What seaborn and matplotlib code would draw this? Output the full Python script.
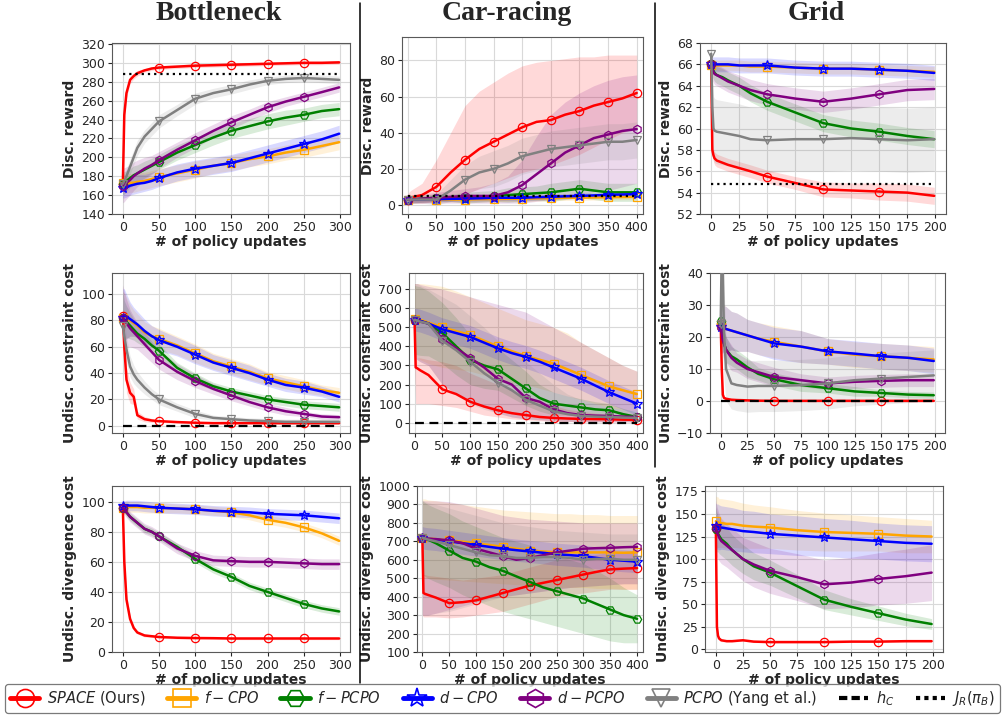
import numpy as np
import matplotlib
matplotlib.use("Agg")
import matplotlib.pyplot as plt
import seaborn as sns
from matplotlib.lines import Line2D

# ---------------- data ----------------
BN_X = [0, 2, 5, 10, 15, 20, 30, 40, 50, 75, 100, 125, 150, 175, 200, 225, 250, 275, 299]
CR_X = [0, 2, 5, 10, 25, 50, 75, 100, 125, 150, 175, 200, 225, 250, 275, 300, 325, 350, 375, 400]
GR_X = [0, 1, 2, 3, 5, 10, 15, 25, 35, 50, 75, 100, 125, 150, 175, 199]

BN_JR = 288
CR_JR = 4.8
GR_JR = 54.85
HC = 0

# Bottleneck - discounted reward
bn_rew_space = [172, 245, 268, 282, 286, 289, 292, 294, 295, 296, 297, 297.5, 298, 298.5, 299, 299.5, 300, 300, 300.5]
bn_rew_space_sd = [5, 6, 5, 4, 3, 3, 2, 2, 2, 2, 2, 2, 2, 2, 2, 2, 2, 2, 2]
bn_rew_fcpo = [173, 172, 172, 173, 173, 174, 175, 177, 179, 183, 187, 191, 194, 198, 201, 205, 208, 212, 216]
bn_rew_fcpo_sd = [10, 10, 10, 10, 10, 10, 9, 9, 9, 9, 9, 8, 8, 8, 8, 8, 8, 8, 8]
bn_rew_fpcpo = [172, 173, 175, 178, 181, 183, 187, 191, 195, 205, 213, 221, 228, 233, 238, 242, 245, 249, 251]
bn_rew_fpcpo_sd = [12, 12, 11, 10, 10, 9, 9, 8, 8, 8, 8, 8, 8, 8, 8, 8, 7, 7, 7]
bn_rew_dcpo = [167, 167, 168, 170, 171, 172, 173, 175, 178, 184, 188, 191, 194, 199, 204, 209, 214, 219, 225]
bn_rew_dcpo_sd = [10, 10, 10, 10, 10, 10, 9, 9, 9, 9, 9, 9, 9, 9, 9, 9, 9, 9, 9]
bn_rew_dpcpo = [170, 171, 173, 176, 180, 183, 188, 192, 197, 208, 218, 228, 237, 245, 253, 259, 264, 269, 274]
bn_rew_dpcpo_sd = [18, 18, 17, 16, 15, 14, 12, 10, 9, 8, 8, 7, 7, 6, 6, 5, 5, 5, 5]
bn_rew_pcpo = [172, 175, 180, 190, 200, 210, 222, 230, 238, 250, 262, 268, 272, 277, 281, 283, 284, 283, 282]
bn_rew_pcpo_sd = [8, 8, 8, 8, 8, 8, 7, 7, 7, 6, 6, 5, 5, 5, 4, 4, 4, 4, 4]

# Car-racing - discounted reward
cr_rew_space = [3, 3.5, 4, 4.5, 5.5, 10, 18, 25, 31, 35, 39, 43, 46, 47, 50, 52, 55, 57, 59, 62]
cr_rew_space_lo = [1, 1, 1, 1, 1, 2, 4, 6, 9, 12, 15, 18, 20, 22, 25, 28, 32, 36, 40, 43]
cr_rew_space_hi = [6, 7, 8, 9, 12, 25, 40, 55, 63, 68, 73, 77, 79, 80, 81, 82, 82, 83, 83, 83]
cr_rew_fcpo = [3, 3, 3, 3, 3, 3, 3, 3, 3.2, 3.3, 3.4, 3.5, 3.7, 3.8, 4, 4, 4.2, 4.3, 4.4, 4.5]
cr_rew_fcpo_sd = [1.5] * 20
cr_rew_fpcpo = [3, 3, 3, 3, 3.5, 4, 4, 4, 4.5, 5, 5.5, 6, 6.5, 7, 8, 9, 8, 7, 7, 7]
cr_rew_fpcpo_sd = [2, 2, 2, 2, 2, 2, 2, 3, 3, 3, 4, 4, 4, 5, 5, 5, 5, 5, 5, 5]
cr_rew_dcpo = [3, 3, 3, 3, 3, 3.2, 3.4, 3.5, 3.7, 4, 4, 4, 4.3, 4.5, 4.8, 5, 5.3, 5.6, 5.8, 6]
cr_rew_dcpo_sd = [1.5] * 20
cr_rew_dpcpo = [3, 3, 3, 3, 3.5, 4, 4.5, 5, 5, 5, 7, 11, 17, 23, 29, 33, 37, 39, 41, 42]
cr_rew_dpcpo_lo = [1, 1, 1, 1, 1, 1, 1, 1, 1, 1, 1, 1, 2, 3, 4, 5, 7, 8, 10, 12]
cr_rew_dpcpo_hi = [5, 5, 5, 5, 6, 7, 8, 9, 10, 12, 16, 25, 38, 50, 57, 62, 66, 69, 71, 72]
cr_rew_pcpo = [3, 3, 3, 3, 3, 3, 8, 14, 18, 20, 23, 27, 29, 31, 32, 33, 34, 35, 35, 36]
cr_rew_pcpo_sd = [2, 2, 2, 2, 2, 3, 6, 8, 9, 10, 10, 10, 10, 10, 10, 10, 10, 10, 10, 10]

# Grid - discounted reward
gr_rew_space = [66, 58, 57.5, 57.2, 57, 56.8, 56.6, 56.3, 56, 55.5, 54.9, 54.3, 54.2, 54.1, 54.0, 53.7]
gr_rew_space_sd = [0.5, 0.6, 0.6, 0.6, 0.6, 0.6, 0.6, 0.6, 0.6, 0.6, 0.6, 0.7, 0.7, 0.8, 0.8, 0.8]
gr_rew_fcpo = [65.9, 65.9, 65.9, 65.9, 65.9, 65.9, 65.9, 65.9, 65.8, 65.8, 65.7, 65.6, 65.6, 65.5, 65.4, 65.3]
gr_rew_fcpo_sd = [0.5] * 16
gr_rew_fpcpo = [66, 65.6, 65.4, 65.2, 65, 64.8, 64.5, 64, 63.3, 62.5, 61.5, 60.5, 60.0, 59.7, 59.3, 59.0]
gr_rew_fpcpo_sd = [0.8] * 16
gr_rew_dcpo = [66, 66, 66, 66, 66, 66, 66, 65.9, 65.9, 65.9, 65.7, 65.6, 65.6, 65.5, 65.4, 65.2]
gr_rew_dcpo_sd = [0.7] * 16
gr_rew_dpcpo = [66, 65.5, 65.3, 65.1, 65, 64.7, 64.4, 64, 63.6, 63.2, 62.8, 62.5, 62.8, 63.2, 63.6, 63.7]
gr_rew_dpcpo_sd = [1.0] * 16
gr_rew_pcpo = [67, 62, 60, 59.8, 59.7, 59.6, 59.5, 59.3, 59, 58.9, 59, 59, 59.1, 59, 58.9, 59]
gr_rew_pcpo_sd = [0.5, 3, 3, 3, 3, 3, 3, 3, 3, 3, 3, 3, 3, 3, 3, 3]

# Bottleneck - undiscounted constraint cost
bn_con_space = [83, 60, 35, 25, 22, 8, 5, 4, 3.5, 2.8, 2.3, 2, 2, 2, 2, 2, 2, 2, 2]
bn_con_space_sd = [5, 10, 10, 8, 6, 3, 2, 1.5, 1, 1, 1, 1, 1, 1, 1, 1, 1, 1, 1]
bn_con_fcpo = [82, 83, 82, 80, 78, 76, 71, 68, 66, 61, 55, 49, 45, 41, 36, 33, 30, 27, 25]
bn_con_fcpo_sd = [20, 18, 16, 12, 10, 9, 8, 8, 8, 7, 7, 6, 6, 6, 5, 5, 5, 4, 4]
bn_con_fpcpo = [82, 80, 79, 76, 73, 70, 66, 61, 57, 44, 36, 30, 26, 23, 20, 18, 16, 15, 14]
bn_con_fpcpo_sd = [20, 15, 12, 10, 8, 7, 6, 6, 5, 4, 4, 3, 3, 3, 3, 3, 3, 3, 3]
bn_con_dcpo = [82, 84, 83, 81, 79, 77, 72, 68, 65, 60, 54, 48, 44, 40, 35, 31, 29, 26, 22]
bn_con_dcpo_sd = [22, 20, 17, 13, 11, 10, 9, 8, 8, 7, 7, 6, 6, 6, 5, 5, 5, 4, 4]
bn_con_dpcpo = [82, 80, 78, 74, 71, 68, 62, 56, 50, 41, 34, 28, 23, 18, 14, 11, 9, 7, 6.5]
bn_con_dpcpo_sd = [25, 22, 18, 14, 12, 10, 9, 8, 7, 6, 5, 4, 4, 3, 3, 3, 2, 2, 2]
bn_con_pcpo = [76, 68, 58, 45, 39, 35, 29, 24, 20, 14, 9, 6, 5, 4, 3.5, 3, 3, 3, 3]
bn_con_pcpo_sd = [15, 12, 10, 8, 7, 6, 5, 4, 4, 3, 3, 2, 2, 2, 2, 2, 2, 2, 2]

# Car-racing - undiscounted constraint cost
cr_con_space = [540, 290, 285, 275, 250, 175, 150, 110, 85, 65, 50, 40, 30, 25, 22, 20, 19, 18, 16, 15]
cr_con_space_lo = [300, 100, 100, 100, 100, 90, 80, 60, 40, 30, 20, 15, 10, 8, 6, 5, 5, 4, 4, 3]
cr_con_space_hi = [550, 340, 340, 340, 330, 320, 300, 260, 230, 200, 170, 140, 110, 90, 70, 60, 50, 45, 40, 35]
cr_con_fcpo = [545, 545, 543, 540, 525, 500, 480, 460, 430, 400, 375, 350, 330, 310, 280, 250, 220, 190, 170, 150]
cr_con_fcpo_lo = [360, 350, 340, 330, 310, 290, 280, 270, 250, 230, 210, 200, 180, 160, 140, 120, 100, 80, 70, 60]
cr_con_fcpo_hi = [730, 730, 730, 730, 725, 715, 690, 660, 630, 600, 570, 540, 520, 500, 470, 420, 380, 340, 300, 270]
cr_con_fpcpo = [540, 538, 536, 533, 520, 470, 400, 330, 300, 280, 230, 180, 130, 100, 90, 80, 70, 65, 45, 30]
cr_con_fpcpo_sd = [180, 180, 180, 180, 170, 160, 150, 130, 120, 110, 100, 90, 70, 60, 50, 45, 40, 35, 30, 25]
cr_con_dcpo = [540, 540, 538, 535, 520, 490, 470, 450, 420, 390, 365, 345, 320, 290, 260, 230, 195, 160, 130, 100]
cr_con_dcpo_sd = [60] * 20
cr_con_dpcpo = [540, 538, 535, 530, 520, 440, 390, 340, 290, 230, 200, 130, 110, 70, 50, 40, 37, 35, 32, 30]
cr_con_dpcpo_lo = [350, 340, 330, 320, 300, 200, 150, 110, 80, 50, 30, 20, 15, 10, 8, 5, 5, 5, 5, 5]
cr_con_dpcpo_hi = [730, 730, 730, 725, 715, 700, 680, 660, 640, 620, 600, 580, 540, 500, 460, 420, 380, 340, 300, 270]
cr_con_pcpo = [540, 538, 535, 530, 520, 430, 380, 320, 260, 210, 170, 120, 90, 60, 45, 35, 32, 30, 27, 25]
cr_con_pcpo_lo = [350, 340, 330, 320, 300, 200, 150, 100, 70, 50, 30, 20, 15, 10, 8, 5, 5, 5, 5, 5]
cr_con_pcpo_hi = [730, 730, 730, 720, 700, 660, 620, 560, 500, 430, 380, 320, 260, 200, 150, 120, 100, 80, 70, 60]

# Grid - undiscounted constraint cost
gr_con_space = [24, 10, 2, 1, 0.7, 0.4, 0.3, 0.2, 0.1, 0.05, 0.05, 0.05, 0.05, 0.05, 0.05, 0.05]
gr_con_space_sd = [1, 3, 1, 0.5, 0.3, 0.3, 0.3, 0.3, 0.3, 0.3, 0.3, 0.3, 0.3, 0.3, 0.3, 0.3]
gr_con_fcpo = [24, 23.5, 23, 23, 22.5, 22, 21.5, 20.5, 19.5, 18.5, 17, 15.5, 14.5, 14, 13.5, 13]
gr_con_fcpo_sd = [8, 8, 8, 7, 7, 6, 6, 5, 5, 5, 5, 4, 4, 4, 4, 4]
gr_con_fpcpo = [25, 22, 20, 18, 16, 14, 13, 10.5, 8.5, 6.8, 5, 4, 3, 2.5, 2, 1.8]
gr_con_fpcpo_sd = [5, 5, 4, 4, 4, 3, 3, 3, 2, 2, 2, 1.5, 1.5, 1, 1, 1]
gr_con_dcpo = [23, 23, 23, 22.8, 22.5, 22, 21.5, 20.5, 19.5, 18, 17, 15.5, 14.8, 14, 13.5, 12.5]
gr_con_dcpo_sd = [8, 8, 8, 7, 7, 6, 6, 5, 5, 5, 5, 4, 4, 4, 4, 4]
gr_con_dpcpo = [23, 21, 19, 18, 16, 13.5, 12, 10, 9, 7.5, 6.5, 5.5, 6, 6.3, 6.5, 6.5]
gr_con_dpcpo_sd = [6, 6, 5, 5, 4, 4, 3, 3, 3, 3, 2, 2, 2, 2, 2, 2]
gr_con_pcpo = [24, 48, 40, 22, 10, 5.5, 5, 4.5, 4.7, 4.7, 5, 5.5, 6.5, 7, 7.5, 8]
gr_con_pcpo_sd = [10, 30, 25, 15, 10, 8, 8, 8, 8, 8, 8, 8, 8, 8, 8, 8]

# Bottleneck - undiscounted divergence cost
bn_div_space = [96, 60, 35, 22, 16, 13, 11, 10.5, 10, 9.5, 9.3, 9.2, 9, 9, 9, 9, 9, 9, 9]
bn_div_space_sd = [3, 5, 4, 2, 1.5, 1, 1, 0.8, 0.8, 0.8, 0.8, 0.8, 0.8, 0.8, 0.8, 0.8, 0.8, 0.8, 0.8]
bn_div_fcpo = [96, 96, 96.5, 96.5, 96.5, 96.5, 96, 96, 96, 95.5, 95, 94, 93, 91, 88, 86, 83, 79, 74]
bn_div_fcpo_sd = [4, 4, 4, 3.5, 3.5, 3.5, 3.5, 3.5, 3.5, 3, 3, 3, 3, 3, 3, 3, 3, 3, 3]
bn_div_fpcpo = [96, 95, 93, 90, 88, 86, 82, 80, 77, 70, 62, 55, 50, 44, 40, 36, 32, 29, 27]
bn_div_fpcpo_sd = [2.5] * 19
bn_div_dcpo = [97, 97, 97.5, 97.5, 97.5, 97.5, 97, 96.5, 96, 95.5, 95, 94, 93.5, 93, 92, 91.5, 91, 90, 89]
bn_div_dcpo_sd = [3.5] * 19
bn_div_dpcpo = [96, 95, 93, 90, 88, 86, 82, 80, 77, 69, 64, 61, 60.5, 60, 60, 59.5, 59, 58.5, 58.5]
bn_div_dpcpo_sd = [3.5] * 19

# Car-racing - undiscounted divergence cost
cr_div_space = [720, 420, 415, 410, 395, 365, 370, 380, 400, 420, 440, 460, 475, 490, 505, 520, 535, 548, 552, 555]
cr_div_space_lo = [300, 290, 290, 290, 290, 285, 290, 300, 310, 320, 340, 360, 380, 400, 410, 420, 430, 440, 440, 440]
cr_div_space_hi = [720, 520, 520, 515, 510, 500, 490, 500, 510, 520, 540, 560, 580, 600, 610, 620, 630, 640, 645, 650]
cr_div_fcpo = [720, 720, 718, 716, 712, 705, 698, 690, 680, 670, 660, 650, 645, 640, 640, 640, 640, 640, 638, 640]
cr_div_fcpo_lo = [500, 500, 500, 500, 495, 490, 485, 480, 475, 470, 465, 460, 455, 450, 450, 450, 445, 445, 440, 440]
cr_div_fcpo_hi = [930, 930, 930, 925, 920, 910, 900, 890, 880, 870, 865, 860, 855, 850, 850, 845, 845, 840, 840, 840]
cr_div_fpcpo = [720, 718, 715, 710, 690, 650, 610, 590, 560, 540, 510, 480, 450, 430, 410, 390, 360, 330, 300, 280]
cr_div_fpcpo_lo = [520, 515, 510, 500, 480, 450, 410, 380, 350, 320, 300, 280, 260, 240, 220, 200, 180, 160, 150, 150]
cr_div_fpcpo_hi = [920, 915, 910, 900, 880, 850, 810, 780, 750, 720, 700, 680, 640, 620, 600, 580, 540, 500, 450, 410]
cr_div_dcpo = [720, 718, 716, 714, 710, 700, 690, 680, 670, 660, 652, 645, 638, 630, 625, 620, 610, 600, 595, 590]
cr_div_dcpo_sd = [60] * 20
cr_div_dpcpo = [720, 718, 716, 714, 712, 705, 690, 660, 640, 620, 600, 610, 625, 640, 650, 660, 663, 665, 668, 670]
cr_div_dpcpo_lo = [300, 300, 300, 300, 310, 330, 350, 370, 390, 400, 410, 420, 430, 440, 450, 455, 460, 465, 470, 470]
cr_div_dpcpo_hi = [920, 920, 920, 920, 920, 915, 900, 880, 860, 840, 830, 820, 815, 810, 805, 800, 800, 800, 800, 800]
cr_div_pcpo = [720, 718, 715, 710, 700, 680, 660, 640, 625, 620, 610, 610, 615, 615, 610, 600, 605, 605, 600, 600]
cr_div_pcpo_lo = [300, 300, 300, 300, 310, 320, 340, 360, 380, 400, 410, 420, 430, 440, 450, 455, 460, 465, 470, 470]
cr_div_pcpo_hi = [920, 920, 915, 910, 900, 880, 860, 840, 820, 800, 790, 780, 770, 760, 755, 750, 745, 740, 740, 740]

# Grid - undiscounted divergence cost
gr_div_space = [135, 25, 15, 12, 10, 9, 9, 10, 8.5, 8, 8, 8, 8.5, 8.5, 9, 9]
gr_div_space_sd = [10, 5, 3, 2, 1.5, 1, 1, 1, 1, 1, 1, 1, 1, 1, 1, 1]
gr_div_fcpo = [142, 141, 141, 140, 140, 139, 139, 137, 136, 135, 132, 130, 129, 128, 126, 125]
gr_div_fcpo_sd = [28, 28, 28, 27, 27, 27, 26, 25, 24, 23, 22, 21, 20, 19, 19, 18]
gr_div_fpcpo = [133, 130, 128, 126, 122, 117, 110, 100, 92, 85, 70, 55, 47, 40, 33, 28]
gr_div_fpcpo_sd = [25, 22, 20, 20, 18, 18, 17, 16, 15, 14, 13, 11, 9, 8, 7, 6]
gr_div_dcpo = [137, 136, 136, 135, 135, 134, 133, 131, 130, 128, 126, 124, 122, 120, 118, 117]
gr_div_dcpo_sd = [25, 25, 25, 25, 24, 24, 24, 23, 23, 22, 22, 21, 21, 20, 20, 20]
gr_div_dpcpo = [135, 130, 127, 124, 120, 115, 110, 100, 94, 87, 80, 72, 74, 78, 81, 85]
gr_div_dpcpo_sd = [30, 28, 27, 26, 25, 24, 24, 24, 25, 25, 26, 27, 28, 29, 30, 31]

ALGOS = ["space", "fcpo", "fpcpo", "dcpo", "dpcpo", "pcpo"]
LABELS = [r"$SPACE$ (Ours)", r"$f-CPO$", r"$f-PCPO$", r"$d-CPO$", r"$d-PCPO$",
          r"$PCPO$ (Yang et al.)", r"$h_C$", r"$J_R(\pi_B)$"]
ENV_TITLES = ["Bottleneck", "Car-racing", "Grid"]
YLABELS = ["Disc. reward", "Undisc. constraint cost", "Undisc. divergence cost"]
XLABEL = "# of policy updates"

# ---------------- styles ----------------
COLORS = {"space": "red", "fcpo": "orange", "fpcpo": "green",
          "dcpo": "blue", "dpcpo": "purple", "pcpo": "gray"}
MARKERS = {"space": "o", "fcpo": "s", "fpcpo": "H", "dcpo": "*",
           "dpcpo": "h", "pcpo": "v"}

sns.set_style("whitegrid", {"axes.edgecolor": "0.35", "grid.color": "0.85",
                            "xtick.bottom": True, "ytick.left": True,
                            "xtick.color": "0.15", "ytick.color": "0.15",
                            "axes.linewidth": 0.9})
plt.rcParams["font.family"] = ["DejaVu Sans"]
plt.rcParams["mathtext.fontset"] = "dejavusans"

FW, FH = 1005, 715
fig = plt.figure(figsize=(FW / 100, FH / 100), dpi=100)

# axes boxes in pixels: (left, top, right, bottom)
BOXES = [
    [(112, 43, 350, 214), (402, 37, 643, 214), (700, 43, 946, 214)],
    [(112, 273, 350, 433), (409, 273, 643, 433), (710, 273, 945, 433)],
    [(112, 486, 350, 652), (417, 486, 643, 652), (705, 486, 943, 652)],
]
ENV_PREFIX = ["bn", "cr", "gr"]
ROW_PREFIX = ["rew", "con", "div"]
ENV_X = {"bn": BN_X, "cr": CR_X, "gr": GR_X}
REF_LINES = {("rew", "bn"): BN_JR, ("rew", "cr"): CR_JR, ("rew", "gr"): GR_JR,
             ("con", "bn"): HC, ("con", "cr"): HC, ("con", "gr"): HC}
XLIMS = {"bn": (-15, 314), "cr": (-10, 411), "gr": (-10, 209.5)}
XTICKS = {"bn": np.arange(0, 301, 50), "cr": np.arange(0, 401, 50), "gr": np.arange(0, 201, 25)}
YLIMS = {("rew", "bn"): (140, 321), ("rew", "cr"): (-5, 93), ("rew", "gr"): (52, 68),
         ("con", "bn"): (-5.5, 116), ("con", "cr"): (-54, 785), ("con", "gr"): (-10, 40),
         ("div", "bn"): (0, 110.5), ("div", "cr"): (100, 1000), ("div", "gr"): (-3, 181)}
YTICKS = {("rew", "bn"): np.arange(140, 321, 20), ("rew", "cr"): np.arange(0, 81, 20),
          ("rew", "gr"): np.arange(52, 69, 2), ("con", "bn"): np.arange(0, 101, 20),
          ("con", "cr"): np.arange(0, 701, 100), ("con", "gr"): np.arange(-10, 41, 10),
          ("div", "bn"): np.arange(0, 101, 20), ("div", "cr"): np.arange(100, 1001, 100),
          ("div", "gr"): np.arange(0, 176, 25)}

G = globals()
for r, rp in enumerate(ROW_PREFIX):
    for c, ep in enumerate(ENV_PREFIX):
        l, t, rr, b = BOXES[r][c]
        ax = fig.add_axes([l / FW, 1 - b / FH, (rr - l) / FW, (b - t) / FH])
        ax.set_axisbelow(True)
        x = np.array(ENV_X[ep], dtype=float)
        mask = [(v % 50 == 0) for v in ENV_X[ep]]
        series = []
        for a in ALGOS:
            name = f"{ep}_{rp}_{a}"
            if name not in G:
                continue
            m = np.array(G[name], dtype=float)
            if name + "_lo" in G:
                lo = np.array(G[name + "_lo"], dtype=float)
                hi = np.array(G[name + "_hi"], dtype=float)
            else:
                sd = np.array(G[name + "_sd"], dtype=float)
                lo, hi = m - sd, m + sd
            series.append((a, m, lo, hi))
        for a, m, lo, hi in series:
            ax.fill_between(x, lo, hi, color=COLORS[a], alpha=0.15, lw=0, zorder=1)
        for a, m, lo, hi in series:
            col = COLORS[a]
            sns.lineplot(x=x, y=m, ax=ax, color=col, linewidth=1.8,
                         marker=MARKERS[a], markevery=mask,
                         markersize=7.5 if a == "dcpo" else 6,
                         markerfacecolor="none", markeredgecolor=col,
                         markeredgewidth=0.9, estimator=None, errorbar=None,
                         sort=False, zorder=3)
        key = (rp, ep)
        if key in REF_LINES:
            v = REF_LINES[key]
            ls = (0, (1, 1.8)) if rp == "rew" else (0, (4, 2.5))
            sns.lineplot(x=[x[0], x[-1]], y=[v, v], ax=ax, color="black",
                         linewidth=1.6, linestyle=ls, estimator=None,
                         errorbar=None, zorder=4)
        ax.set_xlim(*XLIMS[ep])
        ax.set_ylim(*YLIMS[key])
        ax.set_xticks(XTICKS[ep])
        ax.set_yticks(YTICKS[key])
        ax.tick_params(labelsize=9, length=3, width=0.8, pad=2)
        ax.grid(True, color="0.85", lw=0.8)
        ax.set_xlabel(XLABEL, fontsize=10, fontweight="bold", labelpad=1)
        ax.set_ylabel(YLABELS[r], fontsize=10, fontweight="bold", labelpad=3)

# column titles
for cx, title in zip([219, 507, 816], ENV_TITLES):
    fig.text(cx / FW, 1 - 14 / FH, title, ha="center", va="center",
             fontsize=20, fontweight="bold", family=["Liberation Serif", "DejaVu Serif"])

# column separators
fig.add_artist(Line2D([360 / FW, 360 / FW], [1 - 3 / FH, 1 - 683 / FH],
                      color="black", lw=1.1))
fig.add_artist(Line2D([655 / FW, 655 / FW], [1 - 3 / FH, 1 - 467 / FH],
                      color="black", lw=1.1))

# legend
handles = []
for a in ALGOS:
    handles.append(Line2D([0], [0], color=COLORS[a], lw=3.5, marker=MARKERS[a],
                          markersize=15 if a == "dcpo" else 13,
                          markerfacecolor="none", markeredgecolor=COLORS[a],
                          markeredgewidth=1.2))
handles.append(Line2D([0], [0], color="black", lw=3, linestyle=(0, (2, 1))))
handles.append(Line2D([0], [0], color="black", lw=3, linestyle=(0, (1, 1))))
leg = fig.legend(handles, LABELS, loc="lower left",
                 bbox_to_anchor=(5 / FW, 2 / FH, 995 / FW, 29 / FH),
                 mode="expand", ncol=8, fontsize=10.5, borderaxespad=0,
                 handlelength=2.0, handletextpad=0.5, columnspacing=0.8,
                 frameon=True, fancybox=True, edgecolor="0.35",
                 borderpad=0.35)
leg.get_frame().set_linewidth(0.9)

fig.savefig("out.png", dpi=100)
